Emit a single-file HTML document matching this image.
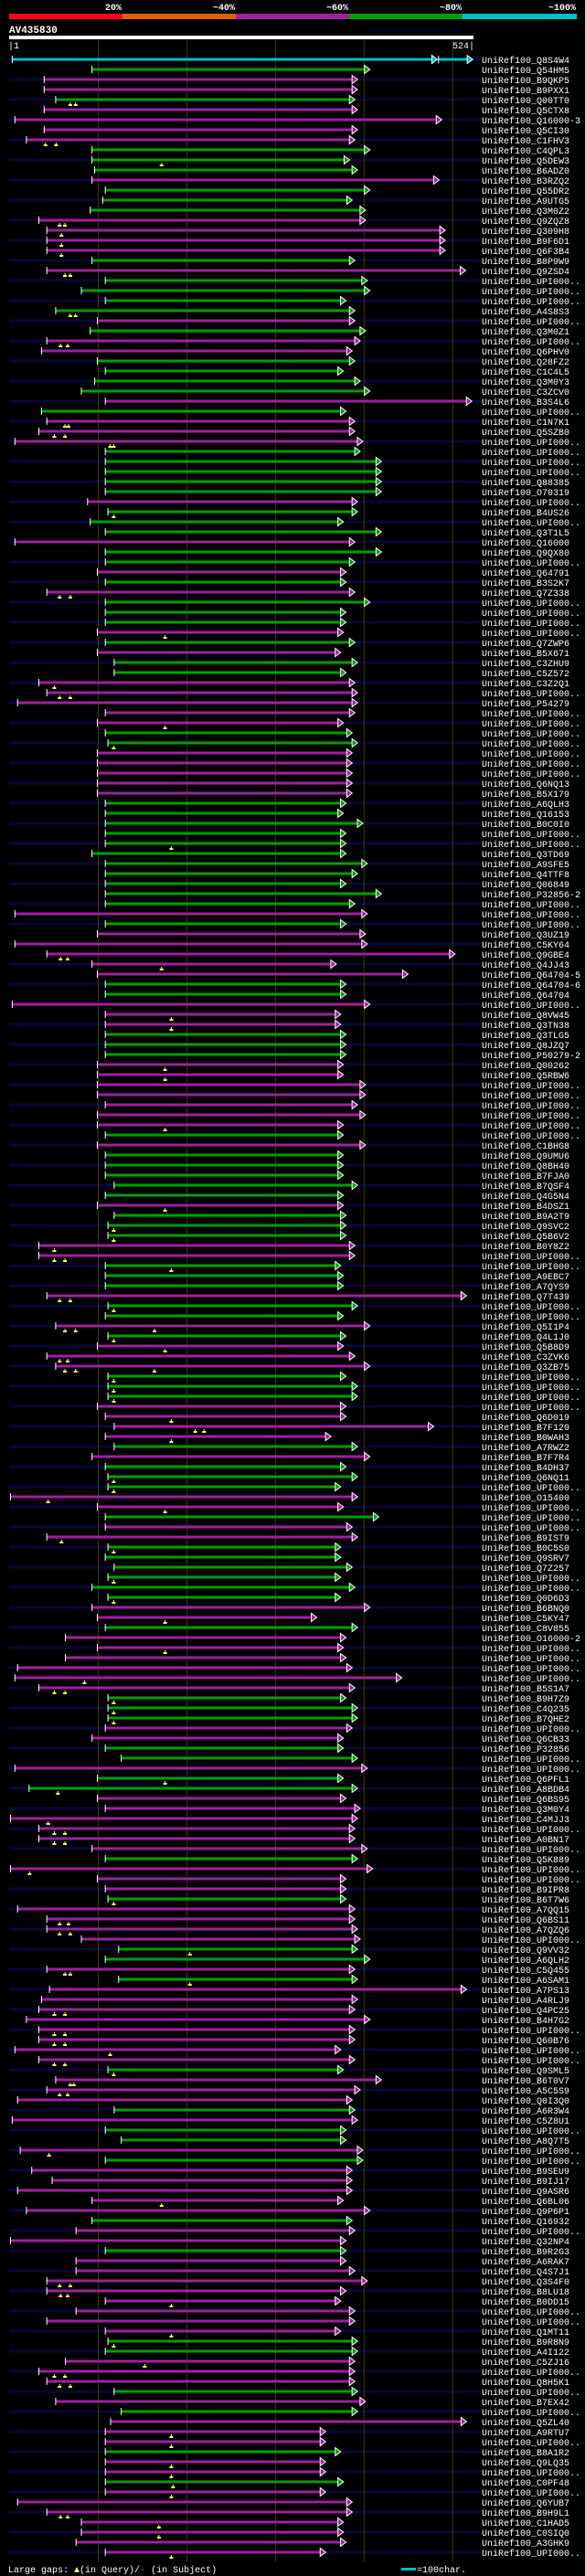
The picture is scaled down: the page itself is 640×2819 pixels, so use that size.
<!DOCTYPE html>
<html><head><meta charset="utf-8"><title>AV435830 alignment view</title>
<style>
html,body{margin:0;padding:0;background:#000;}
svg{display:block;}
text{font-family:"Liberation Mono","DejaVu Sans Mono",monospace;}
</style></head>
<body>
<svg id="chart" xmlns="http://www.w3.org/2000/svg" width="640" height="2819" viewBox="0 0 640 2819">
<rect x="0" y="0" width="640" height="2819" fill="#000"/>
<g>
<rect x="10" y="15" width="124" height="6" fill="#ff0022"/>
<rect x="134" y="15" width="124" height="6" fill="#e06000"/>
<rect x="258" y="15" width="124" height="6" fill="#a020a0"/>
<rect x="382" y="15" width="124" height="6" fill="#00a000"/>
<rect x="506" y="15" width="125" height="6" fill="#00c0c8"/>
<g fill="#fff" font-size="10" font-weight="bold" text-anchor="end">
<text x="133" y="11">20%</text>
<text x="257" y="11">~40%</text>
<text x="381" y="11">~60%</text>
<text x="505" y="11">~80%</text>
<text x="630" y="11">~100%</text>
</g>
</g>
<text x="10" y="36" fill="#fff" font-size="11" font-weight="bold">AV435830</text>
<text x="402" y="35" fill="#000060" font-size="8">AlignView.pm Beta rel.7</text>
<rect x="10" y="39" width="508" height="4" fill="#fff"/>
<text x="9" y="53" fill="#fff" font-size="10">|1</text>
<text x="519" y="53" fill="#fff" font-size="10" text-anchor="end">524|</text>
<g id="grid"></g>
<g id="rows"></g>
<g>
<text x="9" y="2815" fill="#fff" font-size="10">Large gaps: <tspan fill="#ffff66">▲</tspan>(in Query)/<tspan fill="#00c0c8">-</tspan> (in Subject)</text>
<rect x="439" y="2810" width="16" height="3" fill="#00c0c8"/>
<text x="456" y="2815" fill="#fff" font-size="10">=100char.</text>
</g>
</svg>
<script>
const queryLength = 524;
const gridTicks = [100, 200, 300, 400, 500];
const names = ["Q8S4W4","Q54HM5","B9QKP5","B9PXX1","Q00TT0","Q5CTX8","Q16000-3","Q5CI30","C1FHV3","C4QPL3",
"Q5DEW3","B6ADZ0","B3RZQ2","Q55DR2","A9UTG5","Q3M0Z2","Q9ZQZ8","Q309H8","B9F6D1","Q6F3B4",
"B8P9W9","Q9ZSD4","UPI000..","UPI000..","UPI000..","A4S8S3","UPI000..","Q3M0Z1","UPI000..","Q6PHV0",
"Q28FZ2","C1C4L5","Q3M0Y3","C3ZCV0","B3S4L6","UPI000..","C1N7K1","Q5SZB0","UPI000..","UPI000..",
"UPI000..","UPI000..","Q88385","O70319","UPI000..","B4US26","UPI000..","Q3T1L5","Q16000","Q9QX80",
"UPI000..","Q64791","B3S2K7","Q7Z338","UPI000..","UPI000..","UPI000..","UPI000..","Q7ZWP6","B5X671",
"C3ZHU9","C5Z572","C3Z2Q1","UPI000..","P54279","UPI000..","UPI000..","UPI000..","UPI000..","UPI000..",
"UPI000..","UPI000..","Q6NQ13","B5X179","A6QLH3","Q16153","B0C0I0","UPI000..","UPI000..","Q3TD69",
"A9SFE5","Q4TTF8","Q06849","P32856-2","UPI000..","UPI000..","UPI000..","Q3UZ19","C5KY64","Q9GBE4",
"Q4JJ43","Q64704-5","Q64704-6","Q64704","UPI000..","Q8VW45","Q3TN38","Q3TLG5","Q8JZQ7","P50279-2",
"Q00262","Q5RBW6","UPI000..","UPI000..","UPI000..","UPI000..","UPI000..","UPI000..","C1BHG8","Q9UMU6",
"Q8BH40","B7FJA0","B7QSF4","Q4G5N4","B4DSZ1","B9A2T9","Q9SVC2","Q5B6V2","B0Y8Z2","UPI000..",
"UPI000..","A9EBC7","A7QYS9","Q7T439","UPI000..","UPI000..","Q5I1P4","Q4L1J0","Q5B8D9","C3ZVK6",
"Q3ZB75","UPI000..","UPI000..","UPI000..","UPI000..","Q6D019","B7F120","B0WAH3","A7RWZ2","B7F7R4",
"B4DH37","Q6NQ11","UPI000..","O15400","UPI000..","UPI000..","UPI000..","B9IST9","B0C5S0","Q9SRV7",
"Q7Z257","UPI000..","UPI000..","Q0D6D3","B6BNQ0","C5KY47","C8V855","O16000-2","UPI000..","UPI000..",
"UPI000..","UPI000..","B5S1A7","B9H7Z9","C4Q235","B7QHE2","UPI000..","Q6CB33","P32856","UPI000..",
"UPI000..","Q6PFL1","A8BDB4","Q6BS95","Q3M0Y4","C4MJJ3","UPI000..","A0BN17","UPI000..","Q5K889",
"UPI000..","UPI000..","B9IPR8","B6T7W6","A7QQ15","Q6BS11","A7QZQ6","UPI000..","Q9VV32","A6QLH2",
"C5Q455","A6SAM1","A7PS13","A4RLJ9","Q4PC25","B4H7G2","UPI000..","Q60B76","UPI000..","UPI000..",
"Q9SML5","B6T0V7","A5C5S9","Q0I3Q0","A6R3W4","C5Z8U1","UPI000..","A8Q7T5","UPI000..","UPI000..",
"B9SEU9","B9IJ17","Q9ASR6","Q6BL06","Q9P6P1","Q16932","UPI000..","Q32NP4","B9R2G3","A6RAK7",
"Q4S7J1","Q3S4F0","B8LU18","B0DD15","UPI000..","UPI000..","Q1MT11","B9R8N9","A4I122","C5ZJ16",
"UPI000..","Q8H5K1","UPI000..","B7EX42","UPI000..","Q5ZL40","A9RTU7","UPI000..","B8A1R2","Q9LQ35",
"UPI000..","C0PF48","UPI000..","Q6YUB7",
"B9H9L1","C1HAD5","C0SIQ0","A3GHK9","UPI000.."];
const colorCodes = ("cgmmgmmmmg"+"ggmgggmmmm"+"gmggggmgmm"+"ggggmgmmmg"+"ggggmgggmg"+"gmgmgggmgm"+"gg"+
"mmmmmggm"+"mmmmgggggg"+"gggggmgmmm"+"mmggmmmggg"+"mmmmmmmgmg"+"ggggmgggmm"+"gggmggmgmm"+"mgggmmmmgm"+
"gggmmgmmgg"+"ggggmmgmmm"+"mmmgggmmgg"+"mggmmmmmmg"+"mmmgmmmmgg"+"mgmmmmmmmm"+"gmmmgmggmg"+"mmmmmgmmgm"+
"mmmmmmmggm"+"mmgmgmmmgm"+"mgmmmmmmm").split("");
const starts = [3,93,39,39,52,39,6,39,19,93, 93,96,93,108,105,91,33,42,42,42, 93,42,108,81,108,52,99,91,42,36,
99,108,96,81,108,36,42,33,6,108, 108,108,108,108,88,111,91,108,6,108, 108,99,108,42,108,108,108,99,108,99, 118,118,
33,42,9,108,99,108,111,99, 99,99,99,99,108,108,108,108,108,93, 108,108,108,108,108,6,108,99,6,42,
93,99,108,108,3,108,108,108,108,108, 99,99,99,99,108,99,99,108,99,108, 108,108,118,108,99,118,111,111,33,33,
108,108,108,42,111,108,52,111,99,42, 52,111,111,111,99,108,118,108,118,93, 108,111,111,1,99,108,108,42,111,108,
118,111,93,111,93,99,108,63,99,63, 9,6,33,111,111,111,108,93,108,126, 6,99,22,99,108,1,33,33,93,108,
1,99,108,111,9,42,42,81,123,108, 42,123,45,36,33,19,33,33,6,33, 111,52,42,9,118,3,108,126,12,108,
25,48,9,93,19,93,75,1,108,75, 75,42,42,108,75,42,108,111,108,63, 33,42,118,52,126,114,108,108,108,108,
108,108,108,9,42,81,81,75,108];
const ends = [478,402,388,388,385,388,483,388,385,402, 379,388,480,402,382,397,397,487,487,487, 385,510,399,402,375,385,385,397,391,382,
385,372,391,402,517,375,385,385,394,391, 415,415,415,415,388,388,372,415,385,415, 385,375,375,385,402,375,375,372,385,369, 388,375,
385,388,388,385,372,382,388,382, 382,382,382,382,375,372,394,375,375,375, 399,388,375,415,385,399,375,397,399,498,
364,445,375,375,402,369,369,375,375,375, 372,372,397,397,388,397,372,372,397,372, 372,372,388,372,372,375,375,375,385,385,
369,372,372,511,388,372,402,375,372,385, 402,375,388,388,375,375,474,358,388,402, 375,388,369,388,372,412,382,388,369,369,
382,369,385,369,402,342,388,375,372,375, 382,438,385,375,388,388,382,372,372,388, 399,372,388,375,391,388,385,385,399,388,
405,375,375,375,385,385,388,391,388,402, 385,388,511,388,385,402,385,385,369,385, 372,415,391,382,385,388,375,375,394,394,
382,382,382,372,402,382,385,375,375,375, 385,399,375,369,385,385,369,388,388,385, 385,385,388,397,388,511,352,352,369,352,
352,372,352,382,382,372,372,375,352];
const gaps = {4:[69,75],8:[41,53],10:[172],16:[57,63],17:[59],18:[59],19:[59],21:[63,69],25:[69,75],28:[58,66],
36:[63,67],37:[51,63],38:[114,118],45:[118],53:[57,69],57:[176],
62:[51],63:[57,69],66:[176],68:[118],78:[183],89:[58,66],90:[172],95:[183],96:[183],100:[176],101:[176],106:[176],
114:[176],116:[118],117:[118],118:[51],119:[51,63],120:[183],123:[57,69],124:[118],126:[63,75,164],127:[118],128:[176],
129:[57,66],130:[63,75,164],131:[118],132:[118],133:[118],135:[183],136:[210,220],137:[183],141:[118],142:[118],143:[44],
144:[176],147:[59],148:[118],151:[118],153:[118],155:[176],158:[176],161:[85],162:[51,63],163:[118],164:[118],165:[118],
171:[176],172:[55],175:[44],176:[51,63],177:[51,63],180:[23],183:[118],185:[57,67],186:[57,69],188:[204],190:[63,69],
191:[204],194:[51,63],196:[51,63],197:[51,63],198:[114],199:[51,63],200:[118],201:[69,73],202:[57,66],208:[45],213:[172],
221:[57,69],222:[58,66],223:[183],226:[183],227:[118],229:[153],230:[51,63],231:[57,69],236:[183],237:[183],239:[183],
240:[183],241:[185],242:[183],244:[58,66],245:[169],246:[169],248:[183]};
const extraSegments = [[0, 484, 518]];

const NS = "http://www.w3.org/2000/svg";
const palette = {c:"#00c0c8", g:"#00a000", m:"#a020a0"};
function X(c){ return 10 + c * 508 / queryLength; }
function rowY(i){ return 65 + i * 11; }
function mk(tag, attrs, parent){ const el = document.createElementNS(NS, tag); for (const k in attrs) el.setAttribute(k, attrs[k]); parent.appendChild(el); return el; }
const rowsG = document.getElementById('rows');
const gridG = document.getElementById('grid');
const rowCount = 249;

for (let i = 0; i < rowCount; i += 2) {
  const s = mk('rect', {x:10, y:rowY(i)-1.5, width:516, height:3, fill:"#07073a"}, rowsG);
  
  
}
gridTicks.forEach(t => {
  const l = mk('line', {x1:X(t)+0.5, x2:X(t)+0.5, y1:44, y2:2804, stroke:"#3a3a00", 'stroke-width':1}, gridG);
  
  
});
rowsG.parentNode.insertBefore(gridG, rowsG.nextSibling);
const barsG = mk('g', {}, rowsG.parentNode);



function drawSeg(i, s, e, col){
  const cy = rowY(i);
  const x1 = X(s), x2 = X(e);
  const b = mk('rect', {x:x1, y:cy-1.5, width:Math.max(1, x2-x1), height:3, fill:col}, barsG);
  
  
  const t = mk('line', {x1:x1+0.5, x2:x1+0.5, y1:cy-4, y2:cy+4, stroke:"#fff", 'stroke-width':1}, barsG);
  
  
  const a = mk('polygon', {points:(x2-1)+","+(cy-4.5)+" "+(x2+5)+","+cy+" "+(x2-1)+","+(cy+4.5), fill:col, stroke:"#fff", 'stroke-width':1}, barsG);
  
  
}
for (let i = 0; i < rowCount; i++) {
  const col = palette[colorCodes[i]] || palette.m;
  if (starts[i] !== undefined && ends[i] !== undefined) drawSeg(i, starts[i], ends[i], col);
  (gaps[i] || []).forEach(g => {
    const cy = rowY(i);
    const gm = mk('path', {d:"M"+(X(g)-0.5)+","+(cy+3)+"h1v2h1.5v2h-4v-2h1.5z", fill:"#ffff66"}, barsG);
    
    
  });
  const tx = mk('text', {x:527, y:rowY(i)+4, fill:"#fff", 'font-size':10}, barsG);
  tx.textContent = "UniRef100_" + (names[i] || "UPI000..");
  
  
}
extraSegments.forEach(sg => drawSeg(sg[0], sg[1], sg[2], palette[colorCodes[sg[0]]]));
</script>
</body></html>
